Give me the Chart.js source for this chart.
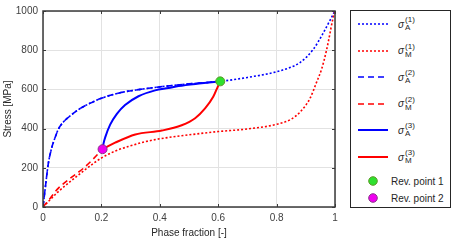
<!DOCTYPE html>
<html>
<head>
<meta charset="utf-8">
<script src="https://cdn.jsdelivr.net/npm/chart.js@4/dist/chart.umd.min.js"></script>
<style>
  html, body { margin: 0; padding: 0; background: #fff; }
  #wrap { position: relative; width: 458px; height: 242px; font-family: "Liberation Sans", Arial, sans-serif; color: #262626; }
  #legend { position: absolute; left: 350px; top: 10px; width: 101px; height: 198px; border: 1px solid #262626; box-sizing: border-box; background: #fff; }
  .row { position: absolute; left: 0; height: 18px; display: flex; align-items: center; }
  .row svg { position: absolute; left: 7px; top: 6px; }
  .lab { position: absolute; left: 47px; white-space: nowrap; display: flex; align-items: center; }
  .sig { font-style: italic; font-size: 10px; }
  .ss { display: inline-flex; flex-direction: column; font-size: 8px; line-height: 8px; margin-left: 1px; }
  .txt { font-size: 10px; position: absolute; left: 40px; white-space: nowrap; }
</style>
</head>
<body>
<div id="wrap">
  <canvas id="c" width="458" height="242"></canvas>
  <div id="legend"></div>
</div>
<script>
// readings
const xA1 = [0, 0.007, 0.012, 0.018, 0.03, 0.041, 0.052, 0.069, 0.093, 0.128, 0.162, 0.2, 0.264, 0.333, 0.4, 0.5, 0.607, 0.7, 0.812, 0.88, 0.925, 0.959, 0.982, 1];
const yA1 = [0, 87, 150, 220, 303, 353, 395, 432, 465, 503, 530, 555, 583, 600, 613, 628, 641, 661, 695, 737, 803, 886, 950, 1000];

const xM1 = [0, 0.05, 0.1, 0.15, 0.2, 0.25, 0.3, 0.35, 0.4, 0.5, 0.6, 0.7, 0.8, 0.85, 0.88, 0.914, 0.937, 0.954, 0.971, 0.982, 0.992, 1];
const yM1 = [0, 75, 138, 197, 250, 287, 312, 333, 348, 368, 385, 398, 422, 448, 484, 553, 637, 703, 800, 880, 955, 1000];

const xA2 = [0, 0.007, 0.012, 0.018, 0.03, 0.041, 0.052, 0.069, 0.093, 0.128, 0.162, 0.2, 0.264, 0.333, 0.4, 0.5, 0.607];
const yA2 = [0, 87, 150, 220, 303, 353, 395, 432, 465, 503, 530, 555, 583, 600, 613, 628, 641];

const xM2 = [0, 0.025, 0.052, 0.092, 0.138, 0.172, 0.204];
const yM2 = [0, 45, 95, 145, 197, 245, 295];

const xA3 = [0.204, 0.207, 0.213, 0.23, 0.253, 0.281, 0.327, 0.384, 0.43, 0.464, 0.543, 0.607];
const yA3 = [295, 322, 355, 420, 475, 520, 565, 595, 607, 617, 631, 641];

const xM3 = [0.204, 0.247, 0.316, 0.407, 0.475, 0.521, 0.555, 0.583, 0.598, 0.607];
const yM3 = [295, 328, 370, 390, 417, 453, 503, 562, 612, 641];

const revX = [0.607, 0.204];
const revY = [641, 295];

const xTicks = [0, 0.2, 0.4, 0.6, 0.8, 1];
const yTicks = [0, 200, 400, 600, 800, 1000];

const blue = '#0000ff', red = '#ff0000';
const dotted = [2, 2], dashed = [6, 4];

const pts = (xs, ys) => xs.map((x, i) => ({ x: x, y: ys[i] }));

function line(label, xs, ys, color, dash, width, order) {
  return {
    label: label,
    data: pts(xs, ys),
    borderColor: color,
    borderDash: dash,
    borderWidth: width,
    pointRadius: 0,
    fill: false,
    cubicInterpolationMode: 'monotone',
    order: order
  };
}

const series = [
  line('A1', xA1, yA1, blue, dotted, 1.6, 6),
  line('M1', xM1, yM1, red, dotted, 1.6, 5),
  line('A2', xA2, yA2, blue, dashed, 1.6, 4),
  line('M2', xM2, yM2, red, dashed, 1.6, 3),
  line('A3', xA3, yA3, blue, [], 2, 2),
  line('M3', xM3, yM3, red, [], 2, 1),
  {
    label: 'Rev. point 1', data: pts([revX[0]], [revY[0]]), showLine: false,
    pointRadius: 4.5, pointBackgroundColor: '#2ee02e', pointBorderColor: '#5f9a2a', pointBorderWidth: 1, order: 0
  },
  {
    label: 'Rev. point 2', data: pts([revX[1]], [revY[1]]), showLine: false,
    pointRadius: 4.5, pointBackgroundColor: '#f000f0', pointBorderColor: '#8a348a', pointBorderWidth: 1, order: 0
  }
];

// box and inward ticks like the original axes
const boxPlugin = {
  id: 'box',
  afterDraw(chart) {
    const a = chart.chartArea, c = chart.ctx;
    const xs = chart.scales.x, ys = chart.scales.y;
    c.save();
    c.strokeStyle = '#3a3a3a';
    c.lineWidth = 1;
    c.beginPath();
    xTicks.forEach(v => {
      const p = Math.round(xs.getPixelForValue(v)) + 0.5;
      c.moveTo(p, a.bottom); c.lineTo(p, a.bottom - 3);
      c.moveTo(p, a.top); c.lineTo(p, a.top + 3);
    });
    yTicks.forEach(v => {
      const p = Math.round(ys.getPixelForValue(v)) + 0.5;
      c.moveTo(a.left, p); c.lineTo(a.left + 3, p);
      c.moveTo(a.right, p); c.lineTo(a.right - 3, p);
    });
    c.stroke();
    c.lineWidth = 1.5;
    c.strokeRect(a.left, a.top, a.right - a.left, a.bottom - a.top);
    c.restore();
  }
};

const font = { family: '"Liberation Sans", Arial, sans-serif', size: 10 };

new Chart(document.getElementById('c'), {
  type: 'line',
  data: { datasets: series },
  options: {
    responsive: false,
    animation: false,
    layout: { padding: { top: 8, right: 123, left: 0, bottom: 0 } },
    plugins: { legend: { display: false }, tooltip: { enabled: false } },
    scales: {
      x: {
        type: 'linear', min: 0, max: 1,
        afterBuildTicks: s => { s.ticks = xTicks.map(v => ({ value: v })); },
        afterFit: s => { s.height = 35; },
        ticks: { font: font, color: '#404040', padding: 5, maxRotation: 0, callback: v => String(+v.toFixed(1)) },
        grid: { color: '#e2e2e2', drawTicks: false },
        border: { display: false },
        title: { display: true, text: 'Phase fraction [-]', font: font, color: '#262626', padding: { top: 0, bottom: 3 } }
      },
      y: {
        type: 'linear', min: 0, max: 1000,
        afterBuildTicks: s => { s.ticks = yTicks.map(v => ({ value: v })); },
        afterFit: s => { s.width = 43; },
        ticks: { font: font, color: '#404040', padding: 5, callback: v => String(v) },
        grid: { color: '#e2e2e2', drawTicks: false },
        border: { display: false },
        title: { display: true, text: 'Stress [MPa]', font: font, color: '#262626', padding: { top: 2, bottom: 0 } }
      }
    }
  },
  plugins: [boxPlugin]
});

// legend in html, so the labels stay text
const legRows = [
  { sup: '(1)', sub: 'A', color: blue, dash: '2 2' },
  { sup: '(1)', sub: 'M', color: red, dash: '2 2' },
  { sup: '(2)', sub: 'A', color: blue, dash: '6 4' },
  { sup: '(2)', sub: 'M', color: red, dash: '6 4' },
  { sup: '(3)', sub: 'A', color: blue, dash: '' },
  { sup: '(3)', sub: 'M', color: red, dash: '' }
];
const legend = document.getElementById('legend');
legRows.forEach((r, i) => {
  const cy = 24 + i * 26.6 - 11;
  const d = document.createElement('div');
  d.className = 'row';
  d.style.top = (cy - 9) + 'px';
  d.innerHTML =
    '<svg width="30" height="6"><line x1="0" y1="3" x2="30" y2="3" stroke="' + r.color +
    '" stroke-width="' + (r.dash ? 1.6 : 2) + '" stroke-dasharray="' + r.dash + '"/></svg>' +
    '<span class="lab"><span class="sig">σ</span><span class="ss"><span>' + r.sup +
    '</span><span>' + r.sub + '</span></span></span>';
  legend.appendChild(d);
});
[[181, 'Rev. point 1', '#2ee02e', '#5f9a2a'], [198, 'Rev. point 2', '#f000f0', '#8a348a']].forEach(p => {
  const cy = p[0] - 11;
  const d = document.createElement('div');
  d.className = 'row';
  d.style.top = (cy - 9) + 'px';
  d.innerHTML =
    '<svg width="30" height="10" style="top:4px"><circle cx="15" cy="5" r="4.3" fill="' + p[2] +
    '" stroke="' + p[3] + '" stroke-width="1"/></svg><span class="txt">' + p[1] + '</span>';
  legend.appendChild(d);
});
</script>
</body>
</html>
